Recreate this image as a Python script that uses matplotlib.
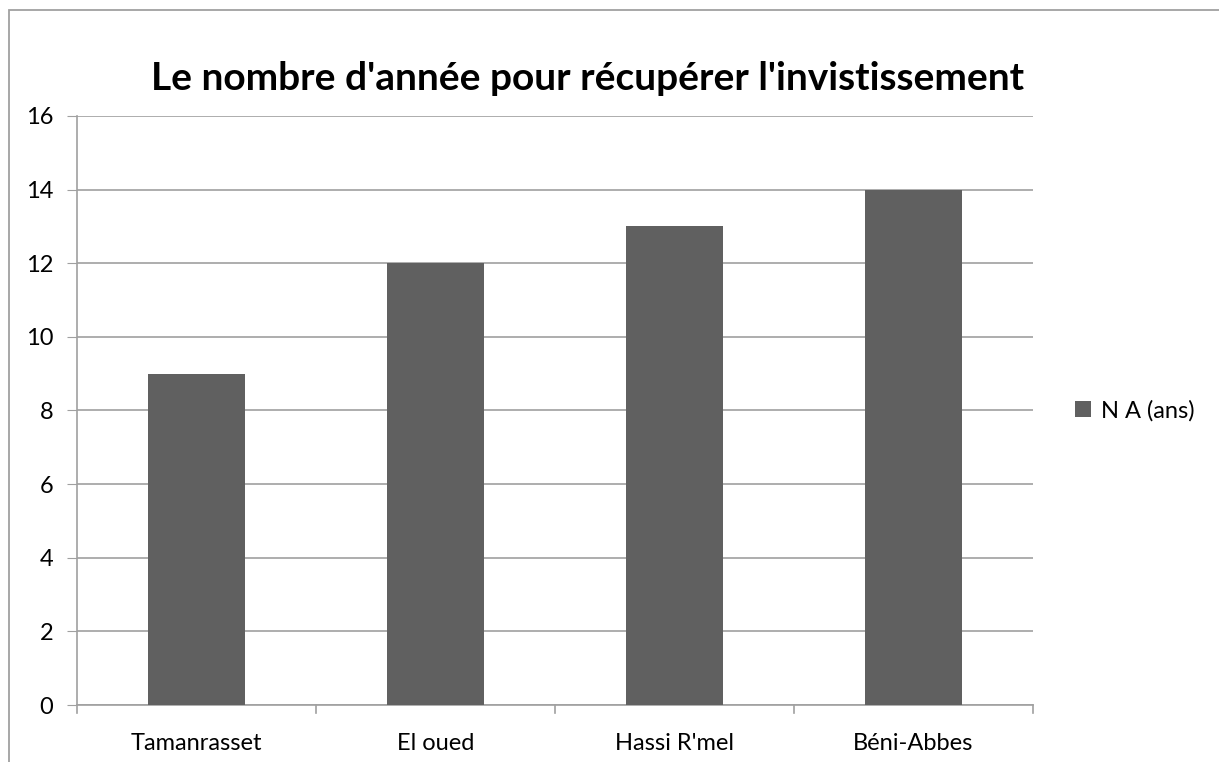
import matplotlib.pyplot as plt
from matplotlib.patches import Rectangle

# Années nécessaires pour récupérer l'investissement, par site
sites = ['Tamanrasset', 'El oued', "Hassi R'mel", 'Béni-Abbes']
annees = [9, 12, 13, 14]
serie = 'N A (ans)'
yticks = [0, 2, 4, 6, 8, 10, 12, 14, 16]

plt.rcParams['font.family'] = ['Lato', 'DejaVu Sans']

fig = plt.figure(figsize=(12.19, 7.62), dpi=100)
ax = fig.add_axes([0.0632, 0.0748, 0.7842, 0.773])

x = range(len(sites))
ax.bar(x, annees, width=0.405, color='#606060', label=serie, zorder=3)

ax.set_xlim(-0.5, len(sites) - 0.5)
ax.set_ylim(0, 16)
ax.set_yticks(yticks)
ax.set_xticks(list(x))
ax.set_xticklabels(sites, fontsize=17)
ax.tick_params(axis='y', labelsize=17, length=7, color='#a0a0a0', pad=10)
ax.tick_params(axis='x', length=0, pad=20)

# graduations entre les catégories
for xb in [k - 0.5 for k in range(len(sites) + 1)]:
    ax.plot([xb, xb], [0, -0.22], color='#a0a0a0', lw=1.2, clip_on=False)

ax.grid(axis='y', color='#a0a0a0', lw=1.2, zorder=0)
for side in ['top', 'right']:
    ax.spines[side].set_visible(False)
for side in ['left', 'bottom']:
    ax.spines[side].set_color('#a0a0a0')
    ax.spines[side].set_linewidth(1.2)

fig.text(0.482, 0.897, "Le nombre d'année pour récupérer l'invistissement",
         ha='center', va='center', fontsize=28, fontweight='bold')

ax.legend(loc='center left', bbox_to_anchor=(1.022, 0.5), frameon=False,
          fontsize=17, handlelength=0.65, handleheight=0.65, handletextpad=0.45)

# cadre de la zone du graphique
fig.patches.append(Rectangle((9 / 1219, -0.1), 1.2, 1 - 10 / 762 + 0.1,
                             transform=fig.transFigure, fill=False,
                             edgecolor='#a0a0a0', lw=1.3))

fig.savefig('out.png', dpi=100)
